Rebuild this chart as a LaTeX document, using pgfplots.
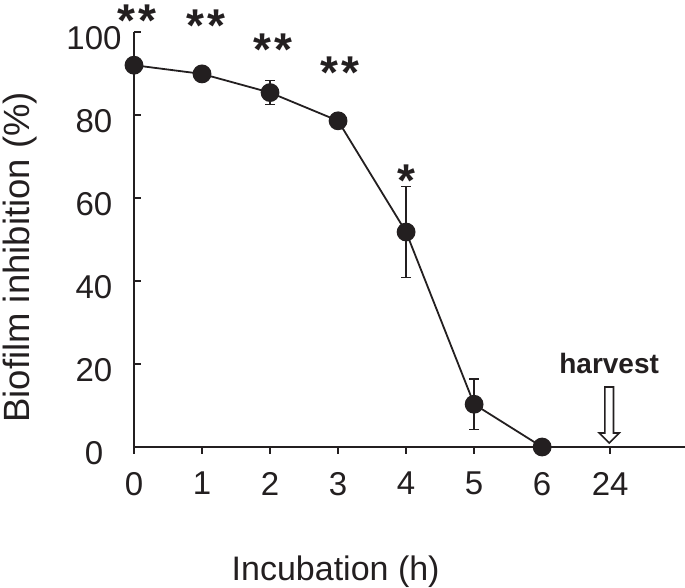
\documentclass[border=0pt]{standalone}
\usepackage{fontspec}
\setmainfont{Liberation Sans}
\usepackage{pgfplots}
\pgfplotsset{compat=1.18}
\definecolor{ink}{RGB}{35,31,32}
\begin{document}
\begin{tikzpicture}[x=1pt,y=1pt]
\useasboundingbox (0,0) rectangle (685,588);
\begin{axis}[
  at={(134pt,141pt)}, anchor=south west,
  scale only axis, width=551pt, height=415pt,
  xmin=0, xmax=8.1, ymin=0, ymax=100,
  axis lines*=left,
  axis line style={line width=2pt, ink},
  clip=false,
  /pgf/number format/assume math mode=true,
  xtick={0,1,2,3,4,5,6,7},
  xticklabels={0,1,2,3,4,5,6,24},
  ytick={0,20,40,60,80,100},
  tick align=inside,
  major tick length=7pt,
  tick style={line width=1.6pt, ink},
  xtick style={yshift=-7pt},
  ticklabel style={font=\fontsize{33}{40}\selectfont, text=ink},
  xticklabel style={anchor=north, inner sep=0pt, yshift=-25pt},
  yticklabel style={anchor=center, inner sep=0pt, xshift=-40pt, yshift=-6pt},
  xlabel={Incubation (h)},
  xlabel style={at={(axis description cs:0.366,-0.301)}, anchor=center, font=\fontsize{34}{40}\selectfont, text=ink},
  ylabel={Biofilm inhibition (\%)},
  ylabel style={at={(axis description cs:-0.207,0.457)}, anchor=center, rotate=0, font=\fontsize{36.5}{42}\selectfont, text=ink},
]
\addplot[line width=1.8pt, ink, mark=*, mark size=8.5pt, mark options={fill=ink, draw=ink},
  error bars/.cd, y dir=both, y explicit,
  error bar style={line width=1.6pt, ink},
  error mark options={rotate=90, mark size=5pt, line width=1.6pt, ink}]
  coordinates {
  (0,92.0) +- (0,0)
  (1,89.9) +- (0,0)
  (2,85.4) +- (0,2.9)
  (3,78.6) +- (0,0)
  (4,51.8) +- (0,11.0)
  (5,10.3) +- (0,6.1)
  (6,0.0) +- (0,0)
  };
\tikzset{star/.style={anchor=base, font=\bfseries\fontsize{46}{52}\selectfont, text=ink}}
\node[star] at (axis cs:0.04,99.0) {*\kern3pt*};
\node[star] at (axis cs:1.06,97.6) {*\kern3pt*};
\node[star] at (axis cs:2.04,92.0) {*\kern3pt*};
\node[star] at (axis cs:3.03,86.4) {*\kern3pt*};
\node[star] at (axis cs:4.01,60.3) {*};
\node[anchor=base, font=\bfseries\fontsize{28}{34}\selectfont, text=ink] at (axis cs:6.985,17.8) {harvest};
\draw[line width=1.6pt, ink, fill=white, line join=miter]
  ([xshift=-4.3pt]axis cs:6.985,14.46) -- ([xshift=-4.3pt]axis cs:6.985,3.37)
  -- ([xshift=-10pt]axis cs:6.985,3.37) -- (axis cs:6.985,0.96)
  -- ([xshift=10pt]axis cs:6.985,3.37) -- ([xshift=4.3pt]axis cs:6.985,3.37)
  -- ([xshift=4.3pt]axis cs:6.985,14.46) -- cycle;
\end{axis}
\end{tikzpicture}
\end{document}
